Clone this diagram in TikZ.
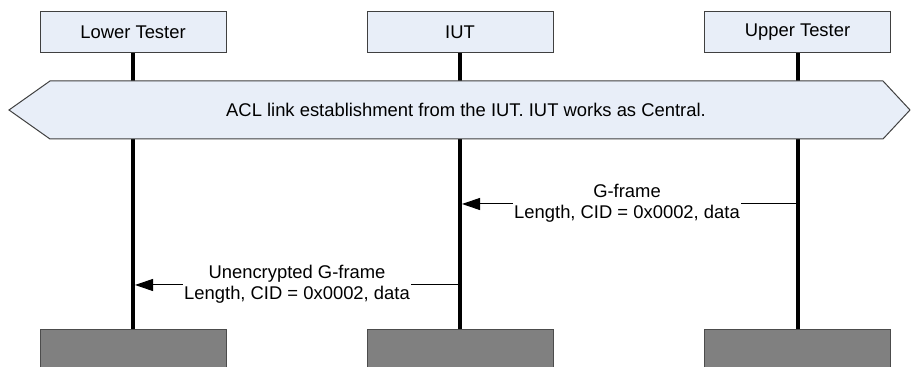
\documentclass[tikz,border=0pt]{standalone}
\usepackage{fontspec}
\setmainfont{Liberation Sans}
\usetikzlibrary{arrows.meta}
\definecolor{hdrfill}{RGB}{232,238,248}
\definecolor{endfill}{RGB}{128,128,128}
\begin{document}
\begin{tikzpicture}[x=0.5pt,y=-0.5pt,
  every node/.style={font=\fontsize{9.2}{10.4}\selectfont},
  hdr/.style={draw=black!75,line width=0.5pt,fill=hdrfill,minimum width=93pt,minimum height=20.5pt,inner sep=0pt},
  endbox/.style={draw=black!70,line width=0.5pt,fill=endfill,minimum width=93pt,minimum height=40pt,inner sep=0pt},
  life/.style={line width=2pt},
  msg/.style={line width=0.5pt,-{Triangle[length=9pt,width=6pt]}},
  lbl/.style={fill=white,inner sep=0.5pt,align=center}]
\useasboundingbox (0,0) rectangle (912,367);
% headers
\node[hdr] (lt) at (133,32.5) {Lower Tester};
\node[hdr] (iut) at (460,32.5) {IUT};
\node[hdr] (ut) at (797.5,32.5) {Upper Tester};
% end boxes
\node[endbox] (ltb) at (133,370) {};
\node[endbox] (iutb) at (460,370) {};
\node[endbox] (utb) at (797.5,370) {};
% lifelines
\draw[life] (lt.south) -- (ltb.north);
\draw[life] (iut.south) -- (iutb.north);
\draw[life] (ut.south) -- (utb.north);
% establishment hexagon
\draw[line width=0.5pt,draw=black!75,fill=hdrfill] (9,110) -- (50,81) -- (883,81) -- (910,110) -- (883,139) -- (50,139) -- cycle;
\node (est) at (466,110) {ACL link establishment from the IUT. IUT works as Central.};
% messages
\coordinate (m1s) at (ut.south |- 0,204);
\coordinate (m1e) at (iut.south |- 0,204);
\draw[msg] (m1s) -- ([xshift=1pt]m1e);
\node[lbl] (m1) at (627,203) {G-frame\\Length, CID = 0x0002, data};
\coordinate (m2s) at (iut.south |- 0,285);
\coordinate (m2e) at (lt.south |- 0,285);
\draw[msg] (m2s) -- ([xshift=1pt]m2e);
\node[lbl] (m2) at (297,284) {Unencrypted G-frame\\Length, CID = 0x0002, data};
\end{tikzpicture}
\end{document}
